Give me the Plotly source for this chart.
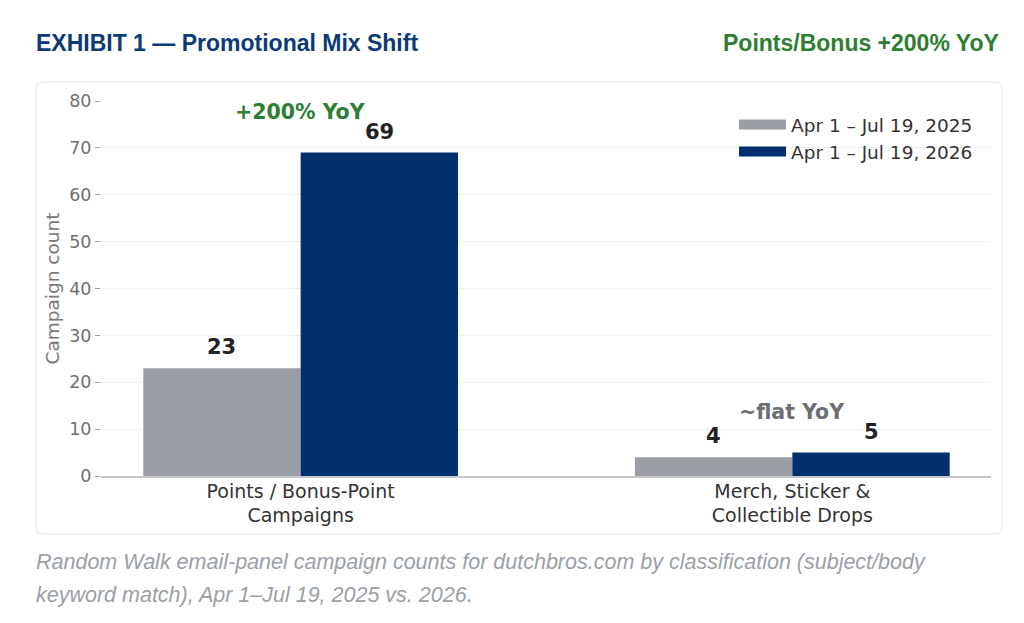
import plotly.graph_objects as go

categories = ["Points / Bonus-Point<br>Campaigns", "Merch, Sticker &<br>Collectible Drops"]
series_names = ["Apr 1 – Jul 19, 2025", "Apr 1 – Jul 19, 2026"]
values_2025 = [23, 4]
values_2026 = [69, 5]
group_notes = ["+200% YoY", "~flat YoY"]
y_ticks = [0, 10, 20, 30, 40, 50, 60, 70, 80]

title_left = "EXHIBIT 1 — Promotional Mix Shift"
title_right = "Points/Bonus +200% YoY"
caption_lines = [
    "Random Walk email-panel campaign counts for dutchbros.com by classification (subject/body",
    "keyword match), Apr 1–Jul 19, 2025 vs. 2026.",
]

GRAY = "#9a9ea5"
NAVY = "#00306e"
GREEN = "#2e7d32"
NOTE_GRAY = "#6b6e73"
CHART_FONT = "DejaVu Sans"
TITLE_FONT = "Liberation Sans, Arial, sans-serif"

# page body has an 8px margin; work in reference-page pixels
OFF = 8
W, H = 1024 - OFF, 623 - OFF
PL, PR, PT, PB = 101, 991, 101, 476          # plot area in page pixels
ML, MT = PL - OFF, PT - OFF
MR, MB = W - (PR - OFF), H - (PB - OFF)
PW, PH = PR - PL, PB - PT


def px_x(px):
    return (px - PL) / PW


def px_y(py):
    return (PB - py) / PH


fig = go.Figure()
fig.add_trace(go.Bar(x=categories, y=values_2025, name=series_names[0],
                     marker=dict(color=GRAY, line=dict(width=0)), showlegend=False))
fig.add_trace(go.Bar(x=categories, y=values_2026, name=series_names[1],
                     marker=dict(color=NAVY, line=dict(width=0)), showlegend=False))
# legend entries (wide rectangular swatches)
for nm, col in zip(series_names, [GRAY, NAVY]):
    fig.add_trace(go.Scatter(x=[None], y=[None], mode="lines", name=nm,
                             line=dict(color=col, width=13)))

annotations = []
bar_offset = 79
for i, cat in enumerate(categories):
    annotations.append(dict(x=cat, y=values_2025[i], xref="x", yref="y", text=str(values_2025[i]),
                            showarrow=False, xshift=-bar_offset, yshift=7, yanchor="bottom",
                            font=dict(family=CHART_FONT, size=21, color="#222222", weight="bold")))
    annotations.append(dict(x=cat, y=values_2026[i], xref="x", yref="y", text=str(values_2026[i]),
                            showarrow=False, xshift=bar_offset, yshift=7, yanchor="bottom",
                            font=dict(family=CHART_FONT, size=21, color="#222222", weight="bold")))
    top = max(values_2025[i], values_2026[i])
    annotations.append(dict(x=cat, y=top, xref="x", yref="y", text=group_notes[i],
                            showarrow=False, yshift=41, yanchor="middle",
                            font=dict(family=CHART_FONT, size=20.5,
                                      color=GREEN if i == 0 else NOTE_GRAY, weight="bold")))

annotations.append(dict(x=px_x(34), y=px_y(43), xref="paper", yref="paper", text=title_left,
                        showarrow=False, xanchor="left", yanchor="middle",
                        font=dict(family=TITLE_FONT, size=23, color="#0b3a78", weight="bold")))
annotations.append(dict(x=px_x(1001), y=px_y(43), xref="paper", yref="paper", text=title_right,
                        showarrow=False, xanchor="right", yanchor="middle",
                        font=dict(family=TITLE_FONT, size=23, color=GREEN, weight="bold")))
for line, py in zip(caption_lines, [562, 595]):
    annotations.append(dict(x=px_x(34), y=px_y(py), xref="paper", yref="paper", text=f"<i>{line}</i>",
                            showarrow=False, xanchor="left", yanchor="middle",
                            font=dict(family=TITLE_FONT, size=21.5, color="#9aa0a6")))

# rounded panel
x0, x1, y0, y1 = px_x(36), px_x(1002), px_y(534), px_y(82)
rx, ry = 7 / PW, 7 / PH
path = (f"M {x0+rx},{y1} L {x1-rx},{y1} Q {x1},{y1} {x1},{y1-ry} "
        f"L {x1},{y0+ry} Q {x1},{y0} {x1-rx},{y0} L {x0+rx},{y0} Q {x0},{y0} {x0},{y0+ry} "
        f"L {x0},{y1-ry} Q {x0},{y1} {x0+rx},{y1} Z")
shapes = [dict(type="path", xref="paper", yref="paper", path=path,
               line=dict(color="#e4e6ea", width=1.2), fillcolor="rgba(0,0,0,0)", layer="below")]

fig.update_layout(
    width=W, height=H,
    margin=dict(l=ML, r=MR, t=MT, b=MB),
    paper_bgcolor="white", plot_bgcolor="white",
    barmode="group", bargap=0.36, bargroupgap=0,
    font=dict(family=CHART_FONT, color="#333333"),
    legend=dict(x=px_x(734), y=px_y(106), xanchor="left", yanchor="top", itemwidth=47,
                bgcolor="rgba(255,255,255,0)", font=dict(family=CHART_FONT, size=18.5, color="#333333"),
                tracegroupgap=0),
    annotations=annotations,
    shapes=shapes,
    xaxis=dict(range=[-0.406, 1.404], showline=True, linecolor="#c4c7cc", linewidth=1.5,
               ticks="", showgrid=False, ticklabelstandoff=-3,
               tickfont=dict(family=CHART_FONT, size=19, color="#333333")),
    yaxis=dict(range=[0, 80], tickvals=y_ticks, showgrid=True, gridcolor="#eceef1", gridwidth=1,
               zeroline=False, showline=False, ticks="outside", ticklen=5, tickcolor="#9aa0a6",
               tickfont=dict(family=CHART_FONT, size=17.5, color="#6f6f6f"),
               title=dict(text="Campaign count", standoff=4,
                          font=dict(family=CHART_FONT, size=18.5, color="#777777"))),
)

fig.write_html("out.html")
